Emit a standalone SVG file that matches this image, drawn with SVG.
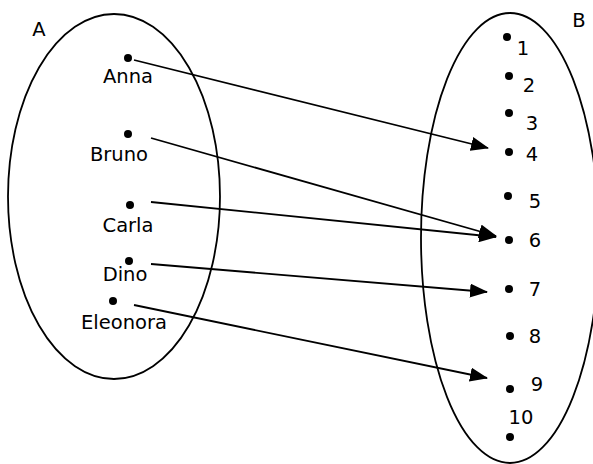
<svg xmlns="http://www.w3.org/2000/svg" width="593" height="464" viewBox="0 0 593 464">
<style>
.set{fill:none;stroke:#000;stroke-width:1.8}
.dot{fill:#000}
.t{font-family:"DejaVu Sans",Verdana,sans-serif;font-size:19.5px;fill:#000}
.c{text-anchor:middle}
.arr{fill:none;stroke:#000;stroke-width:1.8;marker-end:url(#ah)}
</style>
<defs>
<marker id="ah" markerUnits="userSpaceOnUse" markerWidth="18" markerHeight="14" viewBox="0 0 18 14" refX="17" refY="7" orient="auto">
<path d="M0,0 L18,7 L0,14 Z" fill="#000"/>
</marker>
</defs>
<g id="setA">
<ellipse class="set" cx="114" cy="196.5" rx="106" ry="182.5"/>
<text class="t c" x="39" y="36">A</text>
</g>
<g id="setB">
<ellipse class="set" cx="510" cy="238" rx="89" ry="225"/>
<text class="t c" x="579" y="27">B</text>
</g>
<g id="anna"><circle class="dot" cx="128" cy="58" r="4"/><text class="t c" x="128" y="83">Anna</text></g>
<g id="bruno"><circle class="dot" cx="128" cy="134" r="4"/><text class="t c" x="119" y="161">Bruno</text></g>
<g id="carla"><circle class="dot" cx="130" cy="205" r="4"/><text class="t c" x="128" y="232">Carla</text></g>
<g id="dino"><circle class="dot" cx="129" cy="261" r="4"/><text class="t c" x="125" y="281">Dino</text></g>
<g id="eleonora"><circle class="dot" cx="113" cy="301" r="4"/><text class="t c" x="124" y="329">Eleonora</text></g>
<g id="n1"><circle class="dot" cx="507" cy="37" r="4"/><text class="t c" x="523" y="55">1</text></g>
<g id="n2"><circle class="dot" cx="509" cy="76" r="4"/><text class="t c" x="529" y="92">2</text></g>
<g id="n3"><circle class="dot" cx="509" cy="113" r="4"/><text class="t c" x="532" y="130">3</text></g>
<g id="n4"><circle class="dot" cx="509" cy="152" r="4"/><text class="t c" x="532" y="161">4</text></g>
<g id="n5"><circle class="dot" cx="508" cy="196" r="4"/><text class="t c" x="535" y="208">5</text></g>
<g id="n6"><circle class="dot" cx="509" cy="240" r="4"/><text class="t c" x="535" y="247">6</text></g>
<g id="n7"><circle class="dot" cx="509" cy="289" r="4"/><text class="t c" x="535" y="296">7</text></g>
<g id="n8"><circle class="dot" cx="510" cy="336" r="4"/><text class="t c" x="535" y="343">8</text></g>
<g id="n9"><circle class="dot" cx="510" cy="389" r="4"/><text class="t c" x="537" y="391">9</text></g>
<g id="n10"><circle class="dot" cx="510" cy="437" r="4"/><text class="t c" x="521" y="424">10</text></g>
<g id="connectors">
<line class="arr" x1="134" y1="60" x2="488" y2="148"/>
<line class="arr" x1="151" y1="138" x2="496" y2="236"/>
<line class="arr" x1="151" y1="202" x2="496" y2="237"/>
<line class="arr" x1="151" y1="264" x2="487" y2="292"/>
<line class="arr" x1="134" y1="305" x2="487" y2="378"/>
</g>
</svg>
